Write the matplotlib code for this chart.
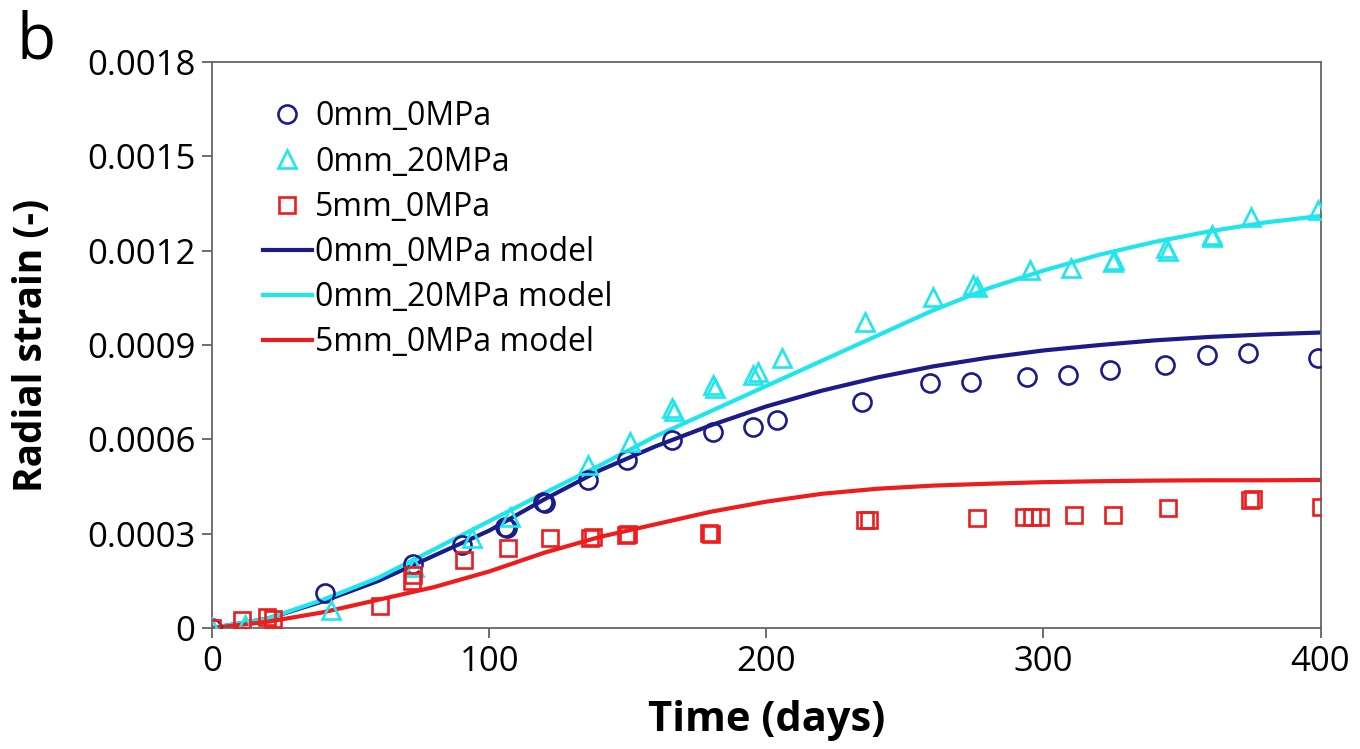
import matplotlib
matplotlib.use("Agg")
import matplotlib.pyplot as plt
from matplotlib.ticker import FuncFormatter

plt.rcParams['font.family'] = ['Open Sans', 'DejaVu Sans']

# Measured radial strain, 0 mm / 0 MPa
t_0mm_0 = [0, 40.8, 72.5, 90, 105.7, 106.5, 119.4, 120.2, 135.6, 149.7, 165.9, 180.7,
           195, 204, 234.4, 259, 274, 294, 308.7, 324, 343.7, 358.9, 373.7, 399]
e_0mm_0 = [0, 0.000113, 0.000205, 0.000264, 0.00032, 0.000318, 0.0004, 0.000398, 0.00047,
           0.000534, 0.000598, 0.000623, 0.000639, 0.000661, 0.000719, 0.000779, 0.000782,
           0.000798, 0.000805, 0.00082, 0.000836, 0.000868, 0.000875, 0.000859]

# Measured radial strain, 0 mm / 20 MPa
t_0mm_20 = [0, 12, 43, 73, 93.8, 107.5, 135.6, 150.8, 165.9, 166.5, 180.7, 181.5, 195, 197,
            205.6, 235.5, 260, 274.5, 276, 295, 310, 325, 325.5, 344.4, 345, 360.7, 361,
            375, 399]
e_0mm_20 = [0, 0.00001, 0.000057, 0.000194, 0.000286, 0.000353, 0.000518, 0.000592, 0.0007,
            0.00069, 0.000773, 0.000765, 0.000805, 0.000814, 0.000859, 0.000973, 0.001053,
            0.00109, 0.001084, 0.001139, 0.001145, 0.001164, 0.001172, 0.001208, 0.0012,
            0.001243, 0.00125, 0.001307, 0.00133]

# Measured radial strain, 5 mm / 0 MPa
t_5mm_0 = [0, 10.8, 19.8, 22, 60.6, 72, 72.5, 91, 106.8, 121.9, 136.5, 137.5, 149.2, 150.2,
           179.2, 180, 235.5, 237, 276, 293, 296, 298.6, 311, 325, 344.8, 374.4, 375.5, 400]
e_5mm_0 = [0, 0.000025, 0.000035, 0.00003, 0.00007, 0.00015, 0.00017, 0.000216, 0.000254,
           0.000286, 0.000286, 0.000288, 0.000296, 0.000298, 0.000302, 0.0003, 0.000343,
           0.000343, 0.00035, 0.000353, 0.000353, 0.000353, 0.000359, 0.000359, 0.000382,
           0.000407, 0.00041, 0.000385]

# Model curves
t_model = [0, 20, 40, 60, 80, 100, 120, 140, 160, 180, 200, 220, 240, 260, 280, 300, 320,
           340, 360, 380, 400]
m_0mm_0 = [0, 0.00003, 0.000085, 0.00015, 0.00023, 0.00031, 0.00041, 0.000502, 0.000578,
           0.000645, 0.000705, 0.000755, 0.000797, 0.000832, 0.00086, 0.000883, 0.0009,
           0.000915, 0.000926, 0.000934, 0.00094]
m_0mm_20 = [0, 0.00003, 0.00009, 0.00016, 0.00025, 0.00034, 0.00043, 0.000518, 0.00061,
            0.00069, 0.00077, 0.00085, 0.00093, 0.00101, 0.00108, 0.001137, 0.001187,
            0.001228, 0.001262, 0.00129, 0.001311]
m_5mm_0 = [0, 0.00002, 0.00005, 0.00009, 0.00013, 0.00018, 0.00024, 0.00029, 0.00033,
           0.00037, 0.000402, 0.000427, 0.000443, 0.000453, 0.000459, 0.000464, 0.000467,
           0.000469, 0.00047, 0.00047, 0.000471]

x_ticks = [0, 100, 200, 300, 400]
y_ticks = [0, 0.0003, 0.0006, 0.0009, 0.0012, 0.0015, 0.0018]

NAVY = '#1b1b8a'
CYAN = '#1fe6ec'
RED = '#ee1c1c'

fig = plt.figure(figsize=(13.6, 7.49), dpi=100)
ax = fig.add_axes([0.156, 0.1615, 0.815, 0.7555])

mk = dict(linestyle='none', markerfacecolor='none', markeredgewidth=1.9, zorder=3)
ax.plot(t_0mm_0, e_0mm_0, marker='o', markersize=13, markeredgecolor=NAVY,
        label='0mm_0MPa', **mk)
ax.plot(t_0mm_20, e_0mm_20, marker='^', markersize=13, markeredgecolor=CYAN,
        label='0mm_20MPa', **mk)
ax.plot(t_5mm_0, e_5mm_0, marker='s', markersize=12, markeredgecolor=RED,
        label='5mm_0MPa', **mk)

ax.plot(t_model, m_0mm_0, color=NAVY, lw=3.0, label='0mm_0MPa model', zorder=2)
ax.plot(t_model, m_0mm_20, color=CYAN, lw=3.0, label='0mm_20MPa model', zorder=2)
ax.plot(t_model, m_5mm_0, color=RED, lw=3.0, label='5mm_0MPa model', zorder=2)

ax.set_xlim(0, 400)
ax.set_ylim(0, 0.0018)
ax.set_xticks(x_ticks)
ax.set_yticks(y_ticks)
ax.yaxis.set_major_formatter(FuncFormatter(lambda v, p: '0' if v == 0 else f'{v:.4f}'))
ax.tick_params(axis='both', direction='out', length=7, width=1.2, color='#555555',
               labelsize=25, pad=5)

for s in ax.spines.values():
    s.set_color('#666666')
    s.set_linewidth(1.3)

ax.set_xlabel('Time (days)', fontsize=30, fontweight='bold', labelpad=15)
ax.set_ylabel('Radial strain (-)', fontsize=28, fontweight='bold', labelpad=26)

fig.text(0.012, 0.922, 'b', fontsize=46)

leg = ax.legend(loc='upper left', bbox_to_anchor=(0.034, 0.955), frameon=False,
                fontsize=23, handlelength=1.55, handletextpad=0.1, labelspacing=0.38,
                borderaxespad=0)

fig.savefig('out.png', dpi=100)
